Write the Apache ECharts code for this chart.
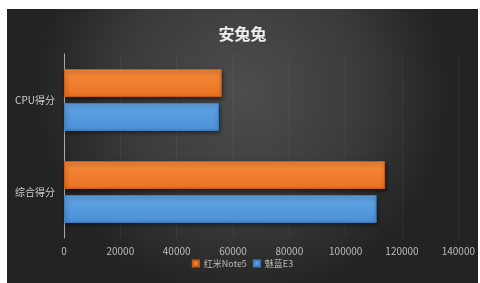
<!DOCTYPE html>
<html><head><meta charset="utf-8">
<script src="https://cdn.jsdelivr.net/npm/echarts@6/dist/echarts.min.js"></script>
<style>
html,body{margin:0;padding:0;background:#fff;width:480px;height:283px;overflow:hidden;}
#c{position:absolute;left:7px;top:9px;width:471px;height:274px;}
</style></head>
<body><div id="c"></div>
<script>
const title = '安兔兔';
const categories = ['综合得分', 'CPU得分'];
const seriesNames = ['红米Note5', '魅蓝E3'];
const redmiValues = [114000, 56000];
const meilanValues = [111000, 55000];
const xTicks = [0, 20000, 40000, 60000, 80000, 100000, 120000, 140000];

const chart = echarts.init(document.getElementById('c'), null, {renderer: 'canvas'});
const font = '"Noto Sans CJK SC", "Noto Sans", sans-serif';
function barStyle(c1, c2, border) {
  return {
    color: new echarts.graphic.LinearGradient(0, 0, 0, 1, [
      {offset: 0, color: c1}, {offset: 1, color: c2}
    ]),
    borderColor: border, borderWidth: 1,
    shadowColor: 'rgba(0,0,0,0.55)', shadowBlur: 4, shadowOffsetY: 2, shadowOffsetX: 1
  };
}
chart.setOption({
  backgroundColor: new echarts.graphic.RadialGradient(0.5, 0.3, 0.75, [
    {offset: 0, color: '#4d4d4d'}, {offset: 0.6, color: '#3a3a3a'}, {offset: 1, color: '#232323'}
  ]),
  animation: false,
  title: {
    text: title, left: 'center', top: 12,
    textStyle: {color: '#eeeeee', fontSize: 16, fontWeight: 'bold', fontFamily: font}
  },
  legend: {
    data: seriesNames, bottom: 10, left: 'center',
    itemWidth: 6, itemHeight: 6, itemGap: 6, icon: 'rect',
    textStyle: {color: '#bbbbbb', fontSize: 9, fontFamily: font}
  },
  grid: {left: 57, right: 18, top: 45, bottom: 45, containLabel: false},
  xAxis: {
    type: 'value', min: xTicks[0], max: xTicks[xTicks.length - 1], interval: xTicks[1] - xTicks[0],
    axisLine: {show: false}, axisTick: {show: false},
    splitLine: {show: true, lineStyle: {color: 'rgba(255,255,255,0.05)', width: 1}},
    axisLabel: {color: '#bbbbbb', fontSize: 10, fontFamily: font, margin: 8,
                formatter: v => String(v)}
  },
  yAxis: {
    type: 'category', data: categories,
    axisLine: {show: true, lineStyle: {color: '#aaaaaa', width: 1}},
    axisTick: {show: false},
    axisLabel: {color: '#cccccc', fontSize: 10, fontFamily: font, margin: 9}
  },
  series: [
    {name: seriesNames[0], type: 'bar', data: redmiValues, barWidth: 28, barGap: '21%',
     itemStyle: barStyle('#f58a3c', '#ec7322', '#c85e18')},
    {name: seriesNames[1], type: 'bar', data: meilanValues, barWidth: 28, barGap: '21%',
     itemStyle: barStyle('#62a5e6', '#4b8fd6', '#3f7fc0')}
  ]
});
</script></body></html>
